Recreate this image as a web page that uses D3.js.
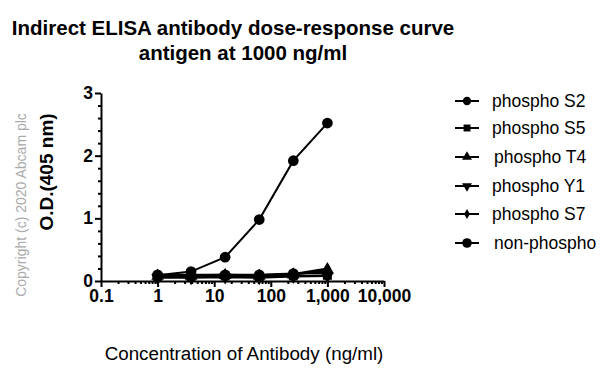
<!DOCTYPE html>
<html>
<head>
<meta charset="utf-8">
<script src="https://cdn.jsdelivr.net/npm/d3@7"></script>
<style>
  body { margin: 0; background: #fff; }
  text { font-family: "Liberation Sans", Arial, sans-serif; }
</style>
</head>
<body>
<div class="chart"></div>
<script>
// antibody concentrations (ng/ml), 4-fold dilution
const conc = [1, 3.9, 15.6, 62.5, 250, 1000];
const names = ["phospho S2", "phospho S5", "phospho T4", "phospho Y1", "phospho S7", "non-phospho"];
const symbols = ["circle", "square", "triangle", "triangleDown", "diamond", "circle"];
const s2 = [0.09, 0.15, 0.38, 0.98, 1.92, 2.52];
const s5 = [0.07, 0.06, 0.08, 0.06, 0.08, 0.09];
const t4 = [0.08, 0.08, 0.09, 0.08, 0.10, 0.17];
const y1 = [0.05, 0.05, 0.06, 0.05, 0.07, 0.08];
const s7 = [0.09, 0.09, 0.10, 0.09, 0.11, 0.20];
const nonPhospho = [0.10, 0.10, 0.10, 0.10, 0.12, 0.13];
const yTicks = [0, 1, 2, 3];
const xTicks = [0.1, 1, 10, 100, 1000, 10000];

const series = [s2, s5, t4, y1, s7, nonPhospho];

const width = 613, height = 379;
const svg = d3.select(".chart").append("svg")
    .attr("width", width)
    .attr("height", height);

const x = d3.scaleLog().domain([0.1, 10000]).range([101, 384]);
const y = d3.scaleLinear().domain([0, 3]).range([281, 93]);

// titles
svg.append("text")
    .attr("x", 233).attr("y", 35)
    .attr("text-anchor", "middle")
    .style("font-size", "20.5px").style("font-weight", "bold")
    .text("Indirect ELISA antibody dose-response curve");
svg.append("text")
    .attr("x", 243).attr("y", 60)
    .attr("text-anchor", "middle")
    .style("font-size", "20.5px").style("font-weight", "bold")
    .text("antigen at 1000 ng/ml");

// y axis with minor ticks
const yMinor = d3.range(0, 3.01, 0.2).filter(v => Math.abs(v - Math.round(v)) > 1e-6);
svg.append("g")
    .attr("transform", "translate(101,0)")
    .call(d3.axisLeft(y).tickValues(yMinor).tickSize(3).tickFormat(""))
    .call(g => g.select(".domain").remove())
    .selectAll("line").attr("stroke-width", 2);
const yAxis = svg.append("g")
    .attr("transform", "translate(101,0)")
    .call(d3.axisLeft(y).tickValues(yTicks).tickSize(6).tickSizeOuter(0).tickPadding(2)
        .tickFormat(d3.format("d")));
yAxis.select(".domain").attr("stroke-width", 2);
yAxis.selectAll("line").attr("stroke-width", 2);
yAxis.selectAll("text").style("font-size", "17.5px").style("font-weight", "bold");

// x axis with log minor ticks
const xMinor = [];
for (let d = 0.1; d < 10000; d *= 10) {
    for (let k = 2; k <= 9; k++) xMinor.push(d * k);
}
svg.append("g")
    .attr("transform", "translate(0,281)")
    .call(d3.axisBottom(x).tickValues(xMinor).tickSize(3).tickFormat(""))
    .call(g => g.select(".domain").remove())
    .selectAll("line").attr("stroke-width", 2);
const xAxis = svg.append("g")
    .attr("transform", "translate(0,281)")
    .call(d3.axisBottom(x).tickValues(xTicks).tickSize(6).tickSizeOuter(0).tickPadding(3)
        .tickFormat(d => d < 1 ? "0.1" : d3.format(",")(d)));
xAxis.select(".domain").attr("stroke-width", 2);
xAxis.selectAll("line").attr("stroke-width", 2);
xAxis.selectAll("text").style("font-size", "17.5px").style("font-weight", "bold");

// axis titles
svg.append("text")
    .attr("transform", "translate(53,172) rotate(-90)")
    .attr("text-anchor", "middle")
    .style("font-size", "19px").style("font-weight", "bold")
    .text("O.D.(405 nm)");
svg.append("text")
    .attr("transform", "translate(26,205) rotate(-90)")
    .attr("text-anchor", "middle")
    .style("font-size", "14px").attr("fill", "#aaa")
    .text("Copyright (c) 2020 Abcam plc");
svg.append("text")
    .attr("x", 244).attr("y", 360)
    .attr("text-anchor", "middle")
    .style("font-size", "18.8px")
    .text("Concentration of Antibody (ng/ml)");

const symType = {
    circle: d3.symbolCircle, square: d3.symbolSquare, triangle: d3.symbolTriangle,
    triangleDown: d3.symbolTriangle, diamond: d3.symbolDiamond
};
const symSize = { circle: 90, square: 80, triangle: 70, triangleDown: 70, diamond: 50 };

const line = d3.line().x((d, i) => x(conc[i])).y(d => y(d));

// draw series (S2 last on top)
series.slice().reverse().forEach((vals, ri) => {
    const si = series.length - 1 - ri;
    svg.append("path")
        .datum(vals)
        .attr("fill", "none")
        .attr("stroke", "#000")
        .attr("stroke-width", 2)
        .attr("d", line);
    svg.selectAll(".pt" + si)
        .data(vals)
        .enter()
        .append("path")
        .attr("class", "pt" + si)
        .attr("transform", (d, i) => `translate(${x(conc[i])},${y(d)})` + (symbols[si] === "triangleDown" ? " rotate(180)" : ""))
        .attr("d", d3.symbol().type(symType[symbols[si]]).size(symSize[symbols[si]]));
});

// legend
const legY = [101, 128, 157, 186, 214, 243];
const leg = svg.selectAll(".leg")
    .data(names)
    .enter()
    .append("g")
    .attr("class", "leg")
    .attr("transform", (d, i) => `translate(467,${legY[i]})`);
leg.append("line")
    .attr("x1", -12).attr("x2", 12)
    .attr("stroke", "#000").attr("stroke-width", 2);
leg.append("path")
    .attr("transform", (d, i) => symbols[i] === "triangleDown" ? "rotate(180)" : null)
    .attr("d", (d, i) => d3.symbol().type(symType[symbols[i]]).size(symSize[symbols[i]] * (i === 5 ? 0.8 : 0.6))());
leg.append("text")
    .attr("x", (d, i) => i === 2 || i === 5 ? 27 : 25)
    .attr("y", 6)
    .style("font-size", "17.5px")
    .text(d => d);
</script>
</body>
</html>
